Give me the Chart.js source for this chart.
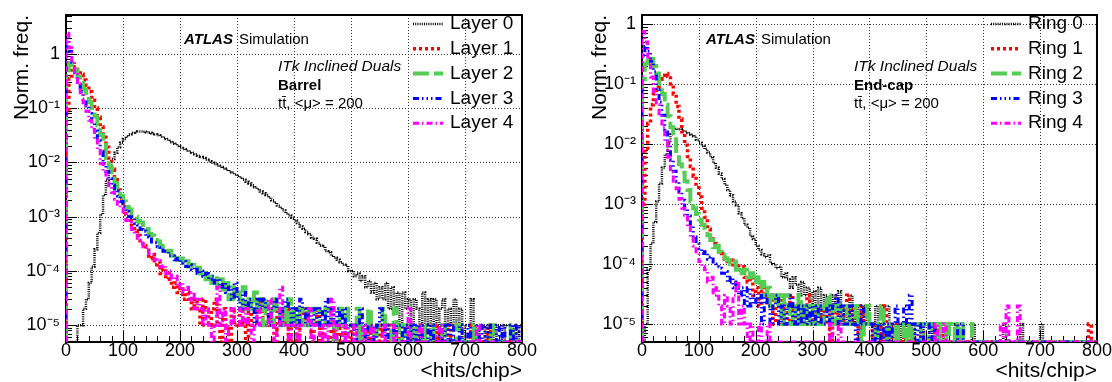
<!DOCTYPE html>
<html>
<head>
<meta charset="utf-8">
<title>hits/chip ITk</title>
<script src="https://cdn.jsdelivr.net/npm/chart.js@4.4.0/dist/chart.umd.min.js"></script>
<style>
    html, body { margin: 0; padding: 0; background: #ffffff; }
    #contenedor { position: relative; width: 1112px; height: 382px; overflow: hidden; }
    #contenedor canvas { position: absolute; top: 0; }
    #barril { left: 0; }
    #tapa { left: 556px; }
</style>
</head>
<body>
<div id="contenedor">
    <canvas id="barril" width="556" height="382"></canvas>
    <canvas id="tapa" width="556" height="382"></canvas>
</div>
<script>
// ancho de cada bin del histograma, en <hits/chip>
var anchoBin = 5;

// marcas de los ejes
var etiquetasX = [0, 100, 200, 300, 400, 500, 600, 700, 800];
var decadasY = [1e-5, 1e-4, 1e-3, 1e-2, 1e-1, 1];
var etiquetasY = ['10⁻⁵', '10⁻⁴', '10⁻³', '10⁻²', '10⁻¹', '1'];

var nombresBarril = ['Layer 0', 'Layer 1', 'Layer 2', 'Layer 3', 'Layer 4'];
var nombresTapa = ['Ring 0', 'Ring 1', 'Ring 2', 'Ring 3', 'Ring 4'];

// Barrel: una fila = 100 hits/chip (20 bins)
var barrilCapa0 = [
    0, 0, 0, 0, 1e-5, 1e-5, 2e-5, 3e-5, 6e-5, 1.2e-4, 2.5e-4, 5e-4, 1.1e-3, 2.5e-3, 4.8e-3, 8e-3, 1.15e-2, 1.5e-2, 1.9e-2, 2.3e-2,
    2.7e-2, 3.0e-2, 3.3e-2, 3.5e-2, 3.6e-2, 3.7e-2, 3.7e-2, 3.65e-2, 3.6e-2, 3.5e-2, 3.4e-2, 3.3e-2, 3.15e-2, 3.0e-2, 2.85e-2, 2.7e-2, 2.5e-2, 2.35e-2, 2.2e-2, 2.0e-2,
    1.85e-2, 1.75e-2, 1.66e-2, 1.58e-2, 1.5e-2, 1.41e-2, 1.33e-2, 1.26e-2, 1.2e-2, 1.12e-2, 1.05e-2, 9.8e-3, 9.2e-3, 8.7e-3, 8.2e-3, 7.7e-3, 7.3e-3, 6.9e-3, 6.5e-3, 6.0e-3,
    5.6e-3, 5.2e-3, 4.8e-3, 4.4e-3, 4.1e-3, 3.8e-3, 3.5e-3, 3.2e-3, 2.9e-3, 2.7e-3, 2.5e-3, 2.25e-3, 2.0e-3, 1.8e-3, 1.6e-3, 1.45e-3, 1.3e-3, 1.15e-3, 1.05e-3, 9.5e-4,
    8.5e-4, 7.6e-4, 6.6e-4, 6.0e-4, 5.2e-4, 4.8e-4, 4.1e-4, 3.9e-4, 3.3e-4, 2.9e-4, 2.8e-4, 2.3e-4, 2.2e-4, 1.9e-4, 1.75e-4, 1.6e-4, 1.45e-4, 1.3e-4, 1.25e-4, 1.0e-4,
    1.0e-4, 8e-5, 9e-5, 6.5e-5, 8e-5, 5e-5, 6.5e-5, 4e-5, 6e-5, 3e-5, 5e-5, 3e-5, 6e-5, 2e-5, 5e-5, 2e-5, 4e-5, 1e-5, 4e-5, 2e-5,
    3e-5, 1e-5, 3e-5, 2e-5, 1e-5, 4e-5, 1e-5, 3e-5, 1e-5, 3e-5, 0, 2e-5, 3e-5, 1e-5, 2e-5, 1e-5, 3e-5, 1e-5, 2e-5, 0,
    1e-5, 1e-5, 3e-5, 1e-5, 0, 1e-5, 1e-5, 0, 1e-5, 1e-5, 0, 1e-5, 1e-5, 0, 1e-5, 1e-5, 0, 1e-5, 0, 1e-5
];
var barrilCapa1 = [
    0.08, 0.35, 0.55, 0.58, 0.52, 0.42, 0.33, 0.26, 0.2, 0.14, 0.1, 0.068, 0.045, 0.029, 0.019, 0.012, 7.5e-3, 4.8e-3, 3.1e-3, 2.1e-3,
    1.5e-3, 1.1e-3, 8.5e-4, 6.8e-4, 5.5e-4, 4.5e-4, 3.6e-4, 2.9e-4, 2.4e-4, 1.7e-4, 2e-4, 1.3e-4, 1.45e-4, 9e-5, 1.1e-4, 7e-5, 9e-5, 5e-5, 6e-5, 4e-5,
    5e-5, 3e-5, 4e-5, 3e-5, 2e-5, 3e-5, 2e-5, 1e-5, 3e-5, 2e-5, 1e-5, 2e-5, 3e-5, 1e-5, 0, 2e-5, 1e-5, 0, 2e-5, 1e-5,
    1e-5, 2e-5, 1e-5, 0, 2e-5, 1e-5, 1e-5, 2e-5, 3e-5, 1e-5, 1e-5, 2e-5, 1e-5, 0, 2e-5, 1e-5, 1e-5, 2e-5, 0, 1e-5,
    1e-5, 0, 1e-5, 2e-5, 1e-5, 1e-5, 0, 1e-5, 2e-5, 0, 1e-5, 1e-5, 1e-5, 0, 1e-5, 0, 1e-5, 1e-5, 0, 0,
    1e-5, 0, 0, 1e-5, 0, 0, 1e-5, 0, 0, 0, 1e-5, 0, 0, 1e-5, 0, 0, 0, 1e-5, 0, 0,
    1e-5, 0, 0, 0, 1e-5, 1e-5, 0, 0, 0, 0, 1e-5, 0, 0, 0, 1e-5, 0, 0, 0, 0, 0,
    0, 0, 1e-5, 0, 0, 0, 0, 0, 1e-5, 0, 0, 0, 0, 0, 0, 0, 0, 0, 0, 0
];
var barrilCapa2 = [
    0.5, 0.68, 0.62, 0.5, 0.38, 0.29, 0.22, 0.17, 0.13, 0.1, 0.07, 0.048, 0.032, 0.021, 0.012, 8.2e-3, 5.8e-3, 4.2e-3, 3.1e-3, 2.4e-3,
    1.9e-3, 1.5e-3, 1.35e-3, 1.05e-3, 1e-3, 8.3e-4, 7.8e-4, 6.2e-4, 5.9e-4, 4.8e-4, 4.5e-4, 3.7e-4, 3.5e-4, 2.8e-4, 2.9e-4, 2.3e-4, 2.35e-4, 1.9e-4, 2e-4, 1.6e-4,
    1.7e-4, 1.4e-4, 1.5e-4, 1.2e-4, 1.3e-4, 1.05e-4, 1.15e-4, 9e-5, 1e-4, 7e-5, 9e-5, 6e-5, 8e-5, 5e-5, 7e-5, 4e-5, 6e-5, 3e-5, 5e-5, 3e-5,
    4e-5, 2e-5, 5e-5, 2e-5, 3e-5, 2e-5, 4e-5, 2e-5, 3e-5, 1e-5, 3e-5, 2e-5, 1e-5, 3e-5, 2e-5, 1e-5, 2e-5, 1e-5, 3e-5, 1e-5,
    2e-5, 1e-5, 2e-5, 1e-5, 1e-5, 2e-5, 1e-5, 2e-5, 2e-5, 1e-5, 1e-5, 2e-5, 2e-5, 1e-5, 0, 1e-5, 2e-5, 1e-5, 2e-5, 1e-5,
    1e-5, 1e-5, 2e-5, 0, 1e-5, 1e-5, 2e-5, 1e-5, 0, 1e-5, 1e-5, 2e-5, 1e-5, 1e-5, 0, 2e-5, 1e-5, 0, 1e-5, 0,
    1e-5, 0, 1e-5, 0, 0, 1e-5, 0, 0, 1e-5, 0, 0, 0, 1e-5, 0, 0, 0, 0, 1e-5, 0, 0,
    0, 0, 0, 1e-5, 0, 0, 0, 0, 0, 1e-5, 0, 0, 0, 0, 0, 0, 1e-5, 0, 0, 0
];
var barrilCapa3 = [
    1.8, 1.1, 0.7, 0.45, 0.3, 0.2, 0.145, 0.11, 0.08, 0.056, 0.038, 0.025, 0.016, 9.5e-3, 6.8e-3, 5e-3, 3.8e-3, 3e-3, 2.4e-3, 1.9e-3,
    1.5e-3, 1.25e-3, 1e-3, 9.5e-4, 7.5e-4, 7e-4, 5.8e-4, 5.4e-4, 4.4e-4, 4.2e-4, 3.4e-4, 3.3e-4, 2.8e-4, 2.7e-4, 2.3e-4, 2.3e-4, 1.9e-4, 1.9e-4, 1.6e-4, 1.7e-4,
    1.4e-4, 1.5e-4, 1.2e-4, 1.3e-4, 1.05e-4, 1.15e-4, 9e-5, 1e-4, 8e-5, 9e-5, 7e-5, 8e-5, 6e-5, 7e-5, 5e-5, 6e-5, 4e-5, 5e-5, 3e-5, 6e-5,
    3e-5, 2e-5, 4e-5, 2e-5, 3e-5, 2e-5, 1e-5, 3e-5, 2e-5, 3e-5, 2e-5, 1e-5, 2e-5, 3e-5, 2e-5, 1e-5, 2e-5, 3e-5, 2e-5, 1e-5,
    2e-5, 1e-5, 3e-5, 2e-5, 1e-5, 2e-5, 1e-5, 2e-5, 1e-5, 2e-5, 1e-5, 3e-5, 1e-5, 2e-5, 1e-5, 2e-5, 1e-5, 2e-5, 0, 1e-5,
    1e-5, 0, 1e-5, 2e-5, 1e-5, 0, 1e-5, 1e-5, 0, 1e-5, 2e-5, 1e-5, 0, 1e-5, 1e-5, 0, 1e-5, 1e-5, 0, 1e-5,
    0, 1e-5, 0, 1e-5, 0, 1e-5, 1e-5, 0, 1e-5, 0, 0, 1e-5, 0, 1e-5, 0, 1e-5, 0, 0, 1e-5, 0,
    0, 1e-5, 0, 0, 1e-5, 0, 1e-5, 0, 1e-5, 0, 0, 1e-5, 0, 1e-5, 0, 0, 1e-5, 0, 1e-5, 0
];
var barrilCapa4 = [
    2.4, 1.3, 0.75, 0.45, 0.28, 0.18, 0.125, 0.088, 0.06, 0.04, 0.027, 0.0165, 9.5e-3, 6.8e-3, 5e-3, 3.7e-3, 2.8e-3, 2.1e-3, 1.7e-3, 1.4e-3,
    1.1e-3, 8.5e-4, 7.8e-4, 5.8e-4, 5.2e-4, 4e-4, 3.7e-4, 2.8e-4, 2.7e-4, 2.1e-4, 2e-4, 1.6e-4, 1.55e-4, 1.2e-4, 1.25e-4, 9e-5, 1e-4, 7e-5, 8e-5, 5e-5,
    6e-5, 4e-5, 5e-5, 3e-5, 4e-5, 2e-5, 3e-5, 2e-5, 1e-5, 2e-5, 1e-5, 0, 1e-5, 5e-5, 1e-5, 2e-5, 0, 1e-5, 2e-5, 1e-5,
    1e-5, 2e-5, 1e-5, 2e-5, 1e-5, 0, 1e-5, 2e-5, 1e-5, 1e-5, 1e-5, 3e-5, 1e-5, 0, 1e-5, 5e-5, 1e-5, 1e-5, 0, 1e-5,
    1e-5, 0, 1e-5, 1e-5, 1e-5, 2e-5, 0, 1e-5, 1e-5, 0, 1e-5, 0, 1e-5, 3e-5, 0, 1e-5, 1e-5, 0, 1e-5, 0,
    0, 1e-5, 0, 0, 1e-5, 0, 0, 1e-5, 0, 0, 0, 1e-5, 0, 0, 0, 1e-5, 0, 0, 0, 0,
    2e-5, 0, 0, 0, 1e-5, 0, 0, 0, 0, 0, 0, 1e-5, 0, 0, 0, 0, 0, 0, 0, 0,
    0, 0, 0, 0, 1e-5, 0, 0, 0, 0, 0, 0, 0, 0, 0, 0, 0, 0, 0, 0, 0
];

// End-cap
var tapaAnillo0 = [
    0, 1e-5, 8e-5, 2.2e-4, 5e-4, 1.1e-3, 2.2e-3, 4e-3, 6.7e-3, 0.0105, 0.0145, 0.0172, 0.0178, 0.0175, 0.0168, 0.016, 0.0152, 0.0143, 0.0135, 0.0118,
    0.0105, 9.2e-3, 8.2e-3, 7.2e-3, 6e-3, 4.8e-3, 4e-3, 3.2e-3, 2.6e-3, 2.1e-3, 1.7e-3, 1.4e-3, 1.1e-3, 9.5e-4, 7e-4, 5.8e-4, 4.5e-4, 4e-4, 2.9e-4, 2.6e-4,
    2e-4, 1.7e-4, 1.45e-4, 1.3e-4, 1.4e-4, 1.05e-4, 1e-4, 8.5e-5, 9e-5, 6e-5, 7e-5, 5.5e-5, 4e-5, 6e-5, 4.5e-5, 3e-5, 5e-5, 3e-5, 4e-5, 2e-5,
    3.5e-5, 2e-5, 4e-5, 1e-5, 3e-5, 2e-5, 1e-5, 3e-5, 2e-5, 3.5e-5, 1e-5, 2e-5, 1e-5, 3e-5, 1e-5, 2e-5, 0, 2e-5, 1e-5, 2e-5,
    1e-5, 0, 2e-5, 1e-5, 0, 2e-5, 2e-5, 0, 1e-5, 0, 1e-5, 0, 1e-5, 0, 0, 1e-5, 0, 0, 1e-5, 0,
    0, 1e-5, 0, 0, 0, 1e-5, 0, 0, 0, 0, 1e-5, 0, 0, 0, 0, 0, 1e-5, 0, 0, 0,
    0, 0, 0, 0, 0, 0, 0, 1e-5, 0, 0, 0, 0, 0, 1e-5, 0, 0, 0, 0, 0, 0,
    1e-5, 0, 0, 0, 0, 0, 0, 0, 0, 0, 0, 0, 0, 0, 0, 0, 0, 0, 0, 0
];
var tapaAnillo1 = [
    1e-3, 8e-3, 0.022, 0.045, 0.068, 0.09, 0.12, 0.14, 0.15, 0.135, 0.1, 0.068, 0.042, 0.026, 0.016, 9.5e-3, 6.2e-3, 4.2e-3, 2.9e-3, 2e-3,
    1.3e-3, 8.5e-4, 6e-4, 3.8e-4, 2.6e-4, 2.2e-4, 1.9e-4, 1.6e-4, 1.5e-4, 1.2e-4, 1.1e-4, 1.15e-4, 9e-5, 1e-4, 8e-5, 9e-5, 6e-5, 5e-5, 6e-5, 3e-5,
    4e-5, 2e-5, 5e-5, 3e-5, 2e-5, 3e-5, 1e-5, 2e-5, 3e-5, 1e-5, 2e-5, 1e-5, 3e-5, 1e-5, 2e-5, 1e-5, 2e-5, 1e-5, 3e-5, 1e-5,
    2e-5, 1e-5, 1e-5, 2e-5, 1e-5, 2e-5, 0, 1e-5, 2e-5, 1e-5, 1e-5, 2e-5, 3e-5, 1e-5, 2e-5, 1e-5, 0, 2e-5, 1e-5, 1e-5,
    1e-5, 0, 1e-5, 1e-5, 0, 2e-5, 1e-5, 0, 1e-5, 1e-5, 0, 0, 1e-5, 1e-5, 0, 0, 0, 0, 1e-5, 0,
    0, 0, 0, 1e-5, 0, 0, 1e-5, 0, 0, 0, 0, 0, 0, 0, 0, 0, 0, 0, 0, 0,
    0, 0, 0, 0, 0, 0, 0, 0, 0, 0, 0, 0, 0, 0, 0, 0, 0, 0, 0, 0,
    0, 0, 0, 0, 0, 0, 0, 0, 0, 0, 0, 0, 0, 0, 0, 0, 0, 1e-5, 0, 0
];
var tapaAnillo2 = [
    0.12, 0.22, 0.28, 0.26, 0.2, 0.15, 0.1, 0.068, 0.045, 0.029, 0.019, 0.012, 7e-3, 4.6e-3, 3.3e-3, 2.4e-3, 1.7e-3, 1.1e-3, 8.5e-4, 6.8e-4,
    5.5e-4, 4.5e-4, 3.6e-4, 3e-4, 2.5e-4, 1.9e-4, 2e-4, 1.6e-4, 1.4e-4, 1.25e-4, 1.15e-4, 1e-4, 1.1e-4, 8e-5, 9e-5, 7e-5, 8e-5, 6e-5, 7e-5, 5e-5,
    6e-5, 4e-5, 5e-5, 3e-5, 4e-5, 2e-5, 3e-5, 2e-5, 3e-5, 1e-5, 3e-5, 2e-5, 1e-5, 2e-5, 1e-5, 3e-5, 1e-5, 2e-5, 1e-5, 2e-5,
    1e-5, 2e-5, 1e-5, 1e-5, 2e-5, 3e-5, 1e-5, 2e-5, 1e-5, 2e-5, 1e-5, 1e-5, 2e-5, 1e-5, 1e-5, 2e-5, 1e-5, 0, 1e-5, 2e-5,
    1e-5, 1e-5, 0, 1e-5, 2e-5, 1e-5, 0, 1e-5, 1e-5, 0, 1e-5, 1e-5, 0, 1e-5, 0, 1e-5, 1e-5, 1e-5, 0, 1e-5,
    1e-5, 0, 1e-5, 1e-5, 0, 1e-5, 1e-5, 0, 1e-5, 1e-5, 0, 1e-5, 0, 1e-5, 1e-5, 1e-5, 0, 0, 0, 0,
    0, 0, 0, 0, 0, 0, 0, 0, 0, 0, 0, 0, 0, 0, 0, 0, 0, 0, 0, 0,
    0, 0, 0, 0, 0, 0, 0, 0, 0, 0, 0, 0, 0, 0, 0, 0, 0, 0, 0, 0
];
var tapaAnillo3 = [
    0.3, 0.42, 0.35, 0.24, 0.16, 0.08, 0.05, 0.03, 0.017, 0.01, 5.5e-3, 3.5e-3, 2.4e-3, 1.6e-3, 1.15e-3, 8.5e-4, 6.3e-4, 4.5e-4, 2.8e-4, 2.2e-4,
    1.8e-4, 1.5e-4, 1.6e-4, 1.2e-4, 1.3e-4, 1e-4, 9e-5, 8.5e-5, 7e-5, 7.5e-5, 5e-5, 6e-5, 4e-5, 5e-5, 3e-5, 4e-5, 2e-5, 4e-5, 2e-5, 3e-5,
    2e-5, 3e-5, 1e-5, 3e-5, 2e-5, 1e-5, 2e-5, 3e-5, 1e-5, 2e-5, 1e-5, 2e-5, 3e-5, 1e-5, 2e-5, 1e-5, 2e-5, 1e-5, 2e-5, 1e-5,
    2e-5, 1e-5, 2e-5, 1e-5, 1e-5, 2e-5, 1e-5, 2e-5, 3e-5, 1e-5, 2e-5, 1e-5, 1e-5, 2e-5, 1e-5, 0, 1e-5, 2e-5, 1e-5, 1e-5,
    1e-5, 0, 1e-5, 0, 1e-5, 0, 1e-5, 0, 1e-5, 2e-5, 1e-5, 1e-5, 2e-5, 1e-5, 3e-5, 1e-5, 0, 1e-5, 0, 1e-5,
    1e-5, 0, 1e-5, 0, 0, 0, 0, 0, 0, 0, 0, 1e-5, 1e-5, 0, 0, 0, 0, 0, 0, 0,
    0, 0, 0, 0, 0, 0, 0, 0, 0, 0, 0, 0, 0, 0, 0, 0, 0, 0, 0, 0,
    0, 0, 0, 0, 0, 0, 0, 0, 0, 0, 0, 0, 0, 0, 0, 0, 0, 0, 0, 0
];
var tapaAnillo4 = [
    0.75, 0.5, 0.28, 0.13, 0.075, 0.045, 0.032, 0.019, 0.011, 6e-3, 3.4e-3, 2.4e-3, 1.8e-3, 1.2e-3, 8.5e-4, 6.5e-4, 4.2e-4, 2.8e-4, 2e-4, 1.5e-4,
    1.1e-4, 9e-5, 8e-5, 5e-5, 6e-5, 3e-5, 4e-5, 2e-5, 1e-5, 3e-5, 2e-5, 1e-5, 3e-5, 5e-5, 1e-5, 2e-5, 1e-5, 0, 1e-5, 0,
    0, 1e-5, 0, 0, 1e-5, 0, 0, 0, 0, 0, 0, 0, 0, 0, 0, 0, 0, 0, 0, 0,
    0, 0, 0, 0, 0, 0, 1e-5, 0, 0, 1e-5, 0, 0, 0, 0, 0, 0, 0, 0, 0, 0,
    0, 0, 0, 0, 0, 0, 0, 0, 0, 0, 0, 0, 0, 0, 0, 0, 0, 0, 0, 0,
    0, 0, 0, 1e-5, 0, 0, 1e-5, 0, 0, 0, 0, 0, 0, 0, 0, 0, 0, 0, 0, 0,
    0, 0, 0, 0, 0, 0, 1e-5, 0, 2e-5, 0, 0, 0, 2e-5, 0, 0, 0, 0, 0, 0, 0,
    0, 0, 0, 0, 0, 0, 0, 0, 0, 0, 0, 0, 0, 0, 0, 0, 0, 0, 0, 0
];

var fuente = '"Liberation Sans", Arial, Helvetica, sans-serif';

// estilo de linea de cada serie (como en ROOT)
var estilos = [
    { color: '#000000', ancho: 2.5, trazo: [1, 1.2] },
    { color: '#ff0000', ancho: 3.5, trazo: [3, 3] },
    { color: '#55cc55', ancho: 4, trazo: [16, 5] },
    { color: '#0000ff', ancho: 3, trazo: [6, 3, 1.5, 3, 1.5, 3, 1.5, 3] },
    { color: '#ff00ff', ancho: 3, trazo: [6, 3, 1.5, 3] }
];

document.addEventListener("DOMContentLoaded", function(){
    graficarPanel('barril', [barrilCapa0, barrilCapa1, barrilCapa2, barrilCapa3, barrilCapa4], nombresBarril, {
        minY: 4.9e-6, maxY: 5.2, padIzq: 0, anchoEjeY: 66, padDer: 34,
        region: 'Barrel', atlasX: 184, textoX: 278, leyendaX: 413
    });
    graficarPanel('tapa', [tapaAnillo0, tapaAnillo1, tapaAnillo2, tapaAnillo3, tapaAnillo4], nombresTapa, {
        minY: 5e-6, maxY: 1.41, padIzq: 22, anchoEjeY: 64, padDer: 14,
        region: 'End-cap', atlasX: 150, textoX: 298, leyendaX: 435
    });
});

// histograma como escalera: bins vacios caen al minimo del eje
function construirPuntos(valores, piso){
    var puntos = [{ x: 0, y: piso }];
    valores.forEach(function(v, i){
        puntos.push({ x: i * anchoBin, y: v > 0 ? v : piso });
    });
    var ultimo = valores[valores.length - 1];
    puntos.push({ x: valores.length * anchoBin, y: ultimo > 0 ? ultimo : piso });
    return puntos;
}

function etiquetaDecada(valor){
    for (var i = 0; i < decadasY.length; i++){
        if (Math.abs(decadasY[i] / valor - 1) < 1e-6) return etiquetasY[i];
    }
    return '';
}

// rejilla punteada, marcas hacia adentro y marco
var marcoRoot = {
    id: 'marcoRoot',
    beforeDatasetsDraw: function(chart){
        var ctx = chart.ctx;
        var a = chart.chartArea;
        var sx = chart.scales.x;
        var sy = chart.scales.y;
        var i, v, px, py, largo;

        ctx.save();
        ctx.strokeStyle = '#333333';
        ctx.lineWidth = 1;
        ctx.setLineDash([1, 2]);
        ctx.beginPath();
        etiquetasX.forEach(function(x){
            if (x <= sx.min || x >= sx.max) return;
            var p = Math.round(sx.getPixelForValue(x)) + 0.5;
            ctx.moveTo(p, a.top);
            ctx.lineTo(p, a.bottom);
        });
        decadasY.forEach(function(y){
            if (y <= sy.min || y >= sy.max) return;
            var p = Math.round(sy.getPixelForValue(y)) + 0.5;
            ctx.moveTo(a.left, p);
            ctx.lineTo(a.right, p);
        });
        ctx.stroke();
        ctx.setLineDash([]);

        ctx.strokeStyle = '#000000';
        ctx.beginPath();
        for (v = sx.min; v <= sx.max; v += 20){
            px = Math.round(sx.getPixelForValue(v)) + 0.5;
            largo = (v % 100 === 0) ? 11 : 6;
            ctx.moveTo(px, a.bottom);
            ctx.lineTo(px, a.bottom - largo);
        }
        var e0 = Math.floor(Math.log10(sy.min));
        var e1 = Math.ceil(Math.log10(sy.max));
        for (var e = e0; e <= e1; e++){
            for (i = 1; i <= 9; i++){
                v = i * Math.pow(10, e);
                if (v < sy.min || v > sy.max) continue;
                py = Math.round(sy.getPixelForValue(v)) + 0.5;
                largo = (i === 1) ? 11 : 6;
                ctx.moveTo(a.left, py);
                ctx.lineTo(a.left + largo, py);
            }
        }
        ctx.stroke();

        ctx.lineWidth = 2;
        ctx.strokeRect(a.left, a.top, a.right - a.left, a.bottom - a.top);
        ctx.restore();
    }
};

// textos ATLAS y leyenda dentro del panel
var textosRoot = {
    id: 'textosRoot',
    afterDraw: function(chart, args, opts){
        var ctx = chart.ctx;
        ctx.save();
        ctx.textBaseline = 'middle';
        ctx.textAlign = 'left';
        ctx.fillStyle = '#000000';

        ctx.font = 'italic bold 15px ' + fuente;
        ctx.fillText('ATLAS', opts.atlasX, 40);
        var w = ctx.measureText('ATLAS').width;
        ctx.font = '15px ' + fuente;
        ctx.fillText('Simulation', opts.atlasX + w + 6, 40);

        ctx.font = 'italic 15.5px ' + fuente;
        ctx.fillText('ITk Inclined Duals', opts.textoX, 67);
        ctx.font = 'bold 15px ' + fuente;
        ctx.fillText(opts.region, opts.textoX, 86);
        ctx.font = '15px ' + fuente;
        ctx.fillText('tt\u0304, <\u03bc> = 200', opts.textoX, 104);

        chart.data.datasets.forEach(function(ds, i){
            var y = 24 + i * 24.8;
            ctx.strokeStyle = ds.borderColor;
            ctx.lineWidth = ds.borderWidth;
            ctx.setLineDash(ds.borderDash);
            ctx.beginPath();
            ctx.moveTo(opts.leyendaX, y);
            ctx.lineTo(opts.leyendaX + 30, y);
            ctx.stroke();
            ctx.setLineDash([]);
            ctx.font = '19px ' + fuente;
            ctx.fillText(ds.label, opts.leyendaX + 37, y);
        });
        ctx.restore();
    }
};

function graficarPanel(idCanvas, series, nombres, cfg){
    var ctx = document.getElementById(idCanvas).getContext('2d');

    var datasets = series.map(function(valores, i){
        return {
            label: nombres[i],
            data: construirPuntos(valores, cfg.minY),
            borderColor: estilos[i].color,
            borderWidth: estilos[i].ancho,
            borderDash: estilos[i].trazo,
            stepped: true,
            pointRadius: 0,
            fill: false,
            order: series.length - 1 - i
        };
    });

    var opcionesTicks = {
        color: '#000000',
        font: { family: fuente, size: 18, lineHeight: 1 },
        autoSkip: false,
        maxRotation: 0
    };

    new Chart(ctx, {
        type: 'line',
        data: { datasets: datasets },
        options: {
            responsive: false,
            animation: false,
            events: [],
            layout: { padding: { left: cfg.padIzq, right: cfg.padDer, top: 13, bottom: 0 } },
            plugins: {
                legend: { display: false },
                tooltip: { enabled: false },
                textosRoot: cfg
            },
            scales: {
                x: {
                    type: 'linear',
                    min: 0,
                    max: 800,
                    grid: { display: false, drawTicks: false },
                    border: { display: false },
                    ticks: Object.assign({ padding: 0 }, opcionesTicks),
                    afterBuildTicks: function(scale){
                        scale.ticks = etiquetasX.map(function(v){ return { value: v }; });
                    },
                    afterFit: function(scale){ scale.height = 40; },
                    title: {
                        display: true,
                        text: '<hits/chip>',
                        align: 'end',
                        color: '#000000',
                        font: { family: fuente, size: 21, lineHeight: 1 },
                        padding: { top: 0, bottom: 0 }
                    }
                },
                y: {
                    type: 'logarithmic',
                    min: cfg.minY,
                    max: cfg.maxY,
                    grid: { display: false, drawTicks: false },
                    border: { display: false },
                    ticks: Object.assign({
                        padding: 6,
                        callback: function(valor){ return etiquetaDecada(valor); }
                    }, opcionesTicks),
                    afterBuildTicks: function(scale){
                        scale.ticks = decadasY.filter(function(d){ return d >= cfg.minY && d <= cfg.maxY; })
                            .map(function(d){ return { value: d }; });
                    },
                    afterFit: function(scale){ scale.width = cfg.anchoEjeY; },
                    title: {
                        display: true,
                        text: 'Norm. freq.',
                        align: 'end',
                        color: '#000000',
                        font: { family: fuente, size: 21, lineHeight: 1 },
                        padding: { top: 11.5, bottom: 0 }
                    }
                }
            }
        },
        plugins: [marcoRoot, textosRoot]
    });
}
</script>
</body>
</html>
